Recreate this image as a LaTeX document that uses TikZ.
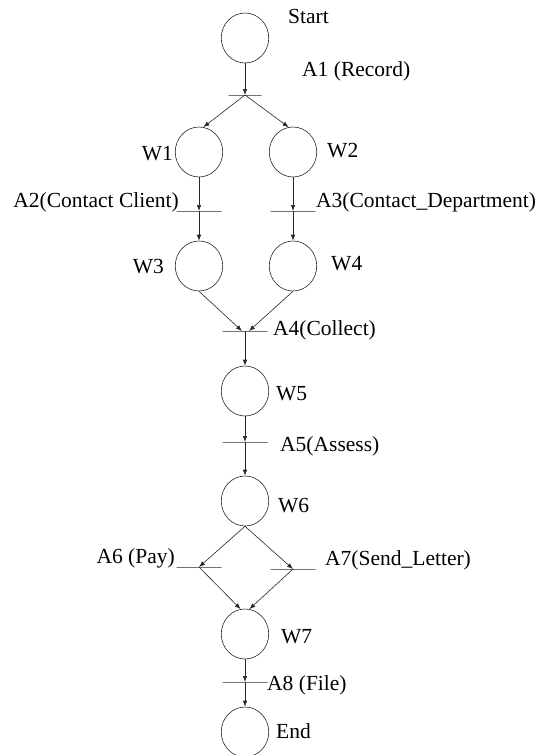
\documentclass[tikz,border=0pt]{standalone}
\usepackage{fontspec}
\setmainfont{Liberation Serif}
\usetikzlibrary{arrows.meta,shapes.geometric}

\begin{document}
\begin{tikzpicture}[x=1pt, y=-1pt, every node/.style={font=\fontsize{21.5}{25}\selectfont}, >={Latex[length=6pt,width=4.5pt]},
	place/.style={ellipse, draw=black!85, line width=0.6pt, minimum width=47.5pt, minimum height=50pt, inner sep=0pt},
	trans/.style={draw=black!85, line width=0.7pt, minimum width=45pt, minimum height=0pt, inner sep=0pt, outer sep=0pt},
	lbl/.style={inner sep=0pt},
	arc/.style={->, draw=black!85, line width=0.6pt}]
	\useasboundingbox (0,0) rectangle (544,755);
	% places
	\node[place] (start) at (245,38) {};
	\node[place] (w1) at (199,152) {};
	\node[place] (w2) at (293,152) {};
	\node[place] (w3) at (199,266) {};
	\node[place] (w4) at (293,266) {};
	\node[place] (w5) at (245,391) {};
	\node[place] (w6) at (245,501) {};
	\node[place] (w7) at (245,634) {};
	\node[place] (end) at (245,732) {};
	% transitions
	\node[trans, minimum width=33pt] (a1) at (245,95) {};
	\node[trans] (a2) at (199,211) {};
	\node[trans] (a3) at (293,211) {};
	\node[trans] (a4) at (245,331) {};
	\node[trans] (a5) at (245,442) {};
	\node[trans] (a6) at (199,567) {};
	\node[trans] (a7) at (293,569) {};
	\node[trans] (a8) at (245,682) {};
	% labels
	\node[lbl, anchor=base west] (lstart) at (288,23) {Start};
	\node[lbl, anchor=base west] (la1) at (302,76) {A1 (Record)};
	\node[lbl, anchor=base east] (lw1) at (173,160) {W1};
	\node[lbl, anchor=base west] (lw2) at (327,157) {W2};
	\node[lbl, anchor=base east] (la2) at (179,207) {A2(Contact Client)};
	\node[lbl, anchor=base west] (la3) at (316,207) {A3(Contact\_Department)};
	\node[lbl, anchor=base east] (lw3) at (164,273) {W3};
	\node[lbl, anchor=base west] (lw4) at (331,270) {W4};
	\node[lbl, anchor=base west] (la4) at (273,335) {A4(Collect)};
	\node[lbl, anchor=base west] (lw5) at (276,400) {W5};
	\node[lbl, anchor=base west] (la5) at (280,451) {A5(Assess)};
	\node[lbl, anchor=base west] (lw6) at (278,512) {W6};
	\node[lbl, anchor=base east] (la6) at (175,563) {A6 (Pay)};
	\node[lbl, anchor=base west] (la7) at (325,565) {A7(Send\_Letter)};
	\node[lbl, anchor=base west] (lw7) at (281,643) {W7};
	\node[lbl, anchor=base west] (la8) at (267,690) {A8 (File)};
	\node[lbl, anchor=base west] (lend) at (276,738) {End};
	% arcs
	\draw[arc] (start) -- (a1);
	\draw[arc] (a1) -- (w1.80);
	\draw[arc] (a1) -- (w2.100);
	\draw[arc] (w1) -- (a2);
	\draw[arc] (a2) -- (w3);
	\draw[arc] (w2) -- (a3);
	\draw[arc] (a3) -- (w4);
	\draw[arc] (w3.south) -- ([xshift=-3pt]a4.center);
	\draw[arc] (w4.south) -- ([xshift=4pt]a4.center);
	\draw[arc] (a4) -- (w5);
	\draw[arc] (w5) -- (a5);
	\draw[arc] (a5) -- (w6);
	\draw[arc] (w6.south) -- (a6);
	\draw[arc] (w6.south) -- (a7);
	\draw[arc] (a6) -- (w7.100);
	\draw[arc] (a7) -- (w7.80);
	\draw[arc] (w7) -- (a8);
	\draw[arc] (a8) -- (end);
\end{tikzpicture}
\end{document}
